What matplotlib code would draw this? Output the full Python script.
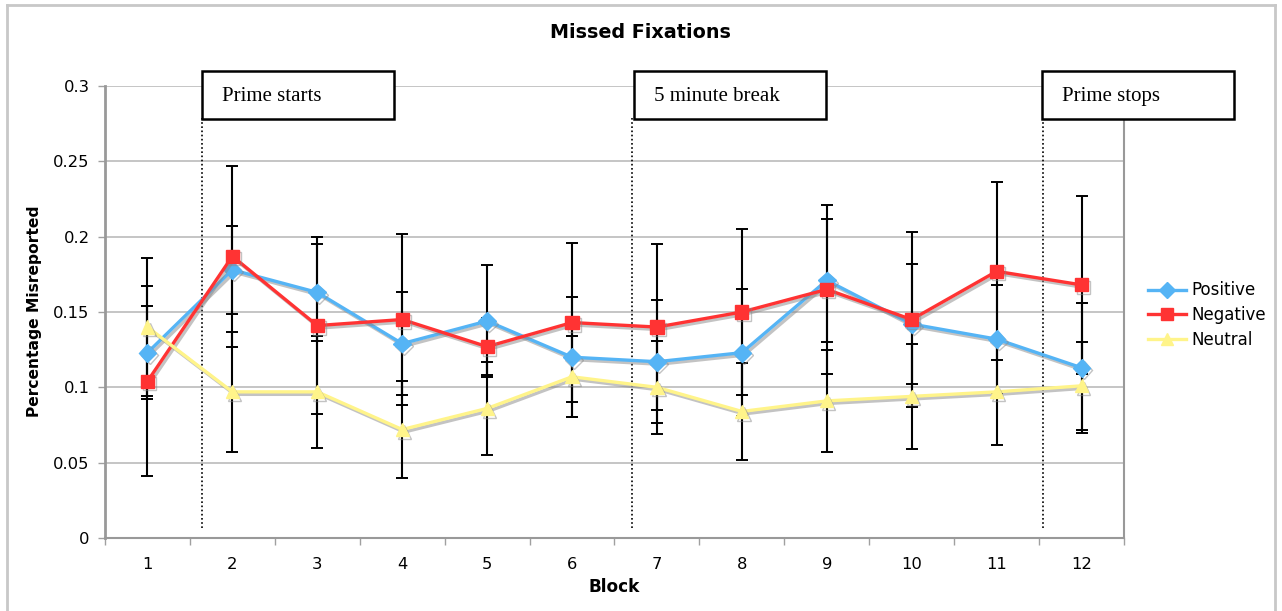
import matplotlib
matplotlib.use("Agg")
import matplotlib.pyplot as plt
import matplotlib.patheffects as pe
from matplotlib.patches import Rectangle
from matplotlib.lines import Line2D

blocks = [1, 2, 3, 4, 5, 6, 7, 8, 9, 10, 11, 12]
positive = [0.123, 0.178, 0.163, 0.129, 0.144, 0.120, 0.117, 0.123, 0.171, 0.142, 0.132, 0.113]
negative = [0.104, 0.187, 0.141, 0.145, 0.127, 0.143, 0.140, 0.150, 0.165, 0.145, 0.177, 0.168]
neutral = [0.140, 0.097, 0.097, 0.072, 0.086, 0.107, 0.100, 0.084, 0.091, 0.094, 0.097, 0.101]
positive_err = [0.031, 0.029, 0.032, 0.034, 0.037, 0.040, 0.041, 0.042, 0.041, 0.040, 0.036, 0.043]
negative_err = [0.063, 0.060, 0.059, 0.057, 0.019, 0.053, 0.055, 0.055, 0.056, 0.058, 0.059, 0.059]
neutral_err = [0.046, 0.040, 0.037, 0.032, 0.031, 0.027, 0.031, 0.032, 0.034, 0.035, 0.035, 0.029]
y_ticks = [0, 0.05, 0.1, 0.15, 0.2, 0.25, 0.3]
y_ticklabels = ["0", "0.05", "0.1", "0.15", "0.2", "0.25", "0.3"]
annotations = ["Prime starts", "5 minute break", "Prime stops"]
annotation_x = [1.643, 6.707, 11.548]

W, H = 1282, 611
fig = plt.figure(figsize=(W / 100, H / 100), dpi=100)
plt.rcParams['font.family'] = ['DejaVu Sans']

def fx(px):
    return px / W

def fy(py):
    return 1 - py / H

ax = fig.add_axes([fx(105), fy(538), fx(1124) - fx(105), fy(86) - fy(538)])
ax.set_xlim(0.5, 12.5)
ax.set_ylim(0, 0.3)

ax.set_yticks(y_ticks)
ax.set_yticklabels(y_ticklabels, fontsize=11.8)
ax.yaxis.grid(True, color='#c0c0c0', lw=1.3)
ax.set_axisbelow(True)
ax.set_xticks(blocks)
ax.set_xticklabels([str(b) for b in blocks], fontsize=11.8)
ax.set_xticks([b + 0.5 for b in [0] + blocks], minor=True)
ax.tick_params(axis='x', which='major', length=0, pad=14)
ax.tick_params(axis='x', which='minor', length=5, color='#a0a0a0', width=1)
ax.tick_params(axis='y', length=5, color='#a0a0a0', width=1, pad=6)

for s in ['left', 'bottom', 'right']:
    ax.spines[s].set_color('#999999')
ax.spines['left'].set_linewidth(2)
ax.spines['bottom'].set_linewidth(1.5)
ax.spines['right'].set_linewidth(1.5)
ax.spines['top'].set_visible(False)

series = [
    (positive, positive_err, '#55b4f5', 'D', 9, 'Positive'),
    (negative, negative_err, '#ff3333', 's', 9.5, 'Negative'),
    (neutral, neutral_err, '#fff48a', '^', 9.5, 'Neutral'),
]

for vals, err, col, mk, ms, lab in series:
    ax.errorbar(blocks, vals, yerr=err, fmt='none', ecolor='black', elinewidth=1.5,
                capsize=4.5, capthick=1.4, zorder=2)

for vals, err, col, mk, ms, lab in series:
    ax.plot(blocks, vals, color=col, lw=2.4, marker=mk, markersize=ms,
            markeredgecolor=col, zorder=4,
            path_effects=[pe.SimpleLineShadow(offset=(1.5, -1.8), shadow_color='#888888', alpha=0.5),
                          pe.Normal()])

for xv in annotation_x:
    ax.plot([xv, xv], [0.0066, 0.279], color='black', lw=1.2, ls=(0, (1, 1.5)), zorder=3)

box_left_px = [202, 634, 1042]
for lab, bl in zip(annotations, box_left_px):
    r = Rectangle((fx(bl), fy(119)), fx(192), fy(71) - fy(119), transform=fig.transFigure,
                  facecolor='white', edgecolor='black', lw=1.8, zorder=10)
    fig.patches.append(r)
    fig.text(fx(bl + 20), fy(101), lab, fontsize=15, family='Liberation Serif',
             va='baseline', ha='left', zorder=11)

fig.text(fx(640), fy(32), "Missed Fixations", fontsize=13.8, fontweight='bold', ha='center', va='center')
fig.text(fx(614), fy(587), "Block", fontsize=12.2, fontweight='bold', ha='center', va='center')
fig.text(fx(35), fy(311), "Percentage Misreported", fontsize=11.2, fontweight='bold',
         ha='center', va='center', rotation=90)

handles = [Line2D([0], [0], color=c, lw=2.4, marker=m, markersize=ms * 0.85, markeredgecolor=c)
           for _, _, c, m, ms, _ in series]
fig.legend(handles, [s[5] for s in series], loc='center left',
           bbox_to_anchor=(fx(1141), fy(315)), frameon=False, fontsize=12,
           handlelength=2.3, handletextpad=0.35, labelspacing=0.4, borderaxespad=0)

for xs, ys in [([fx(7), fx(7)], [0, fy(5)]), ([fx(7), fx(1275)], [fy(5), fy(5)]),
               ([fx(1275), fx(1275)], [fy(5), 0])]:
    fig.add_artist(Line2D(xs, ys, color='#c8c8c8', lw=2, transform=fig.transFigure))

fig.savefig("out.png", dpi=100)
